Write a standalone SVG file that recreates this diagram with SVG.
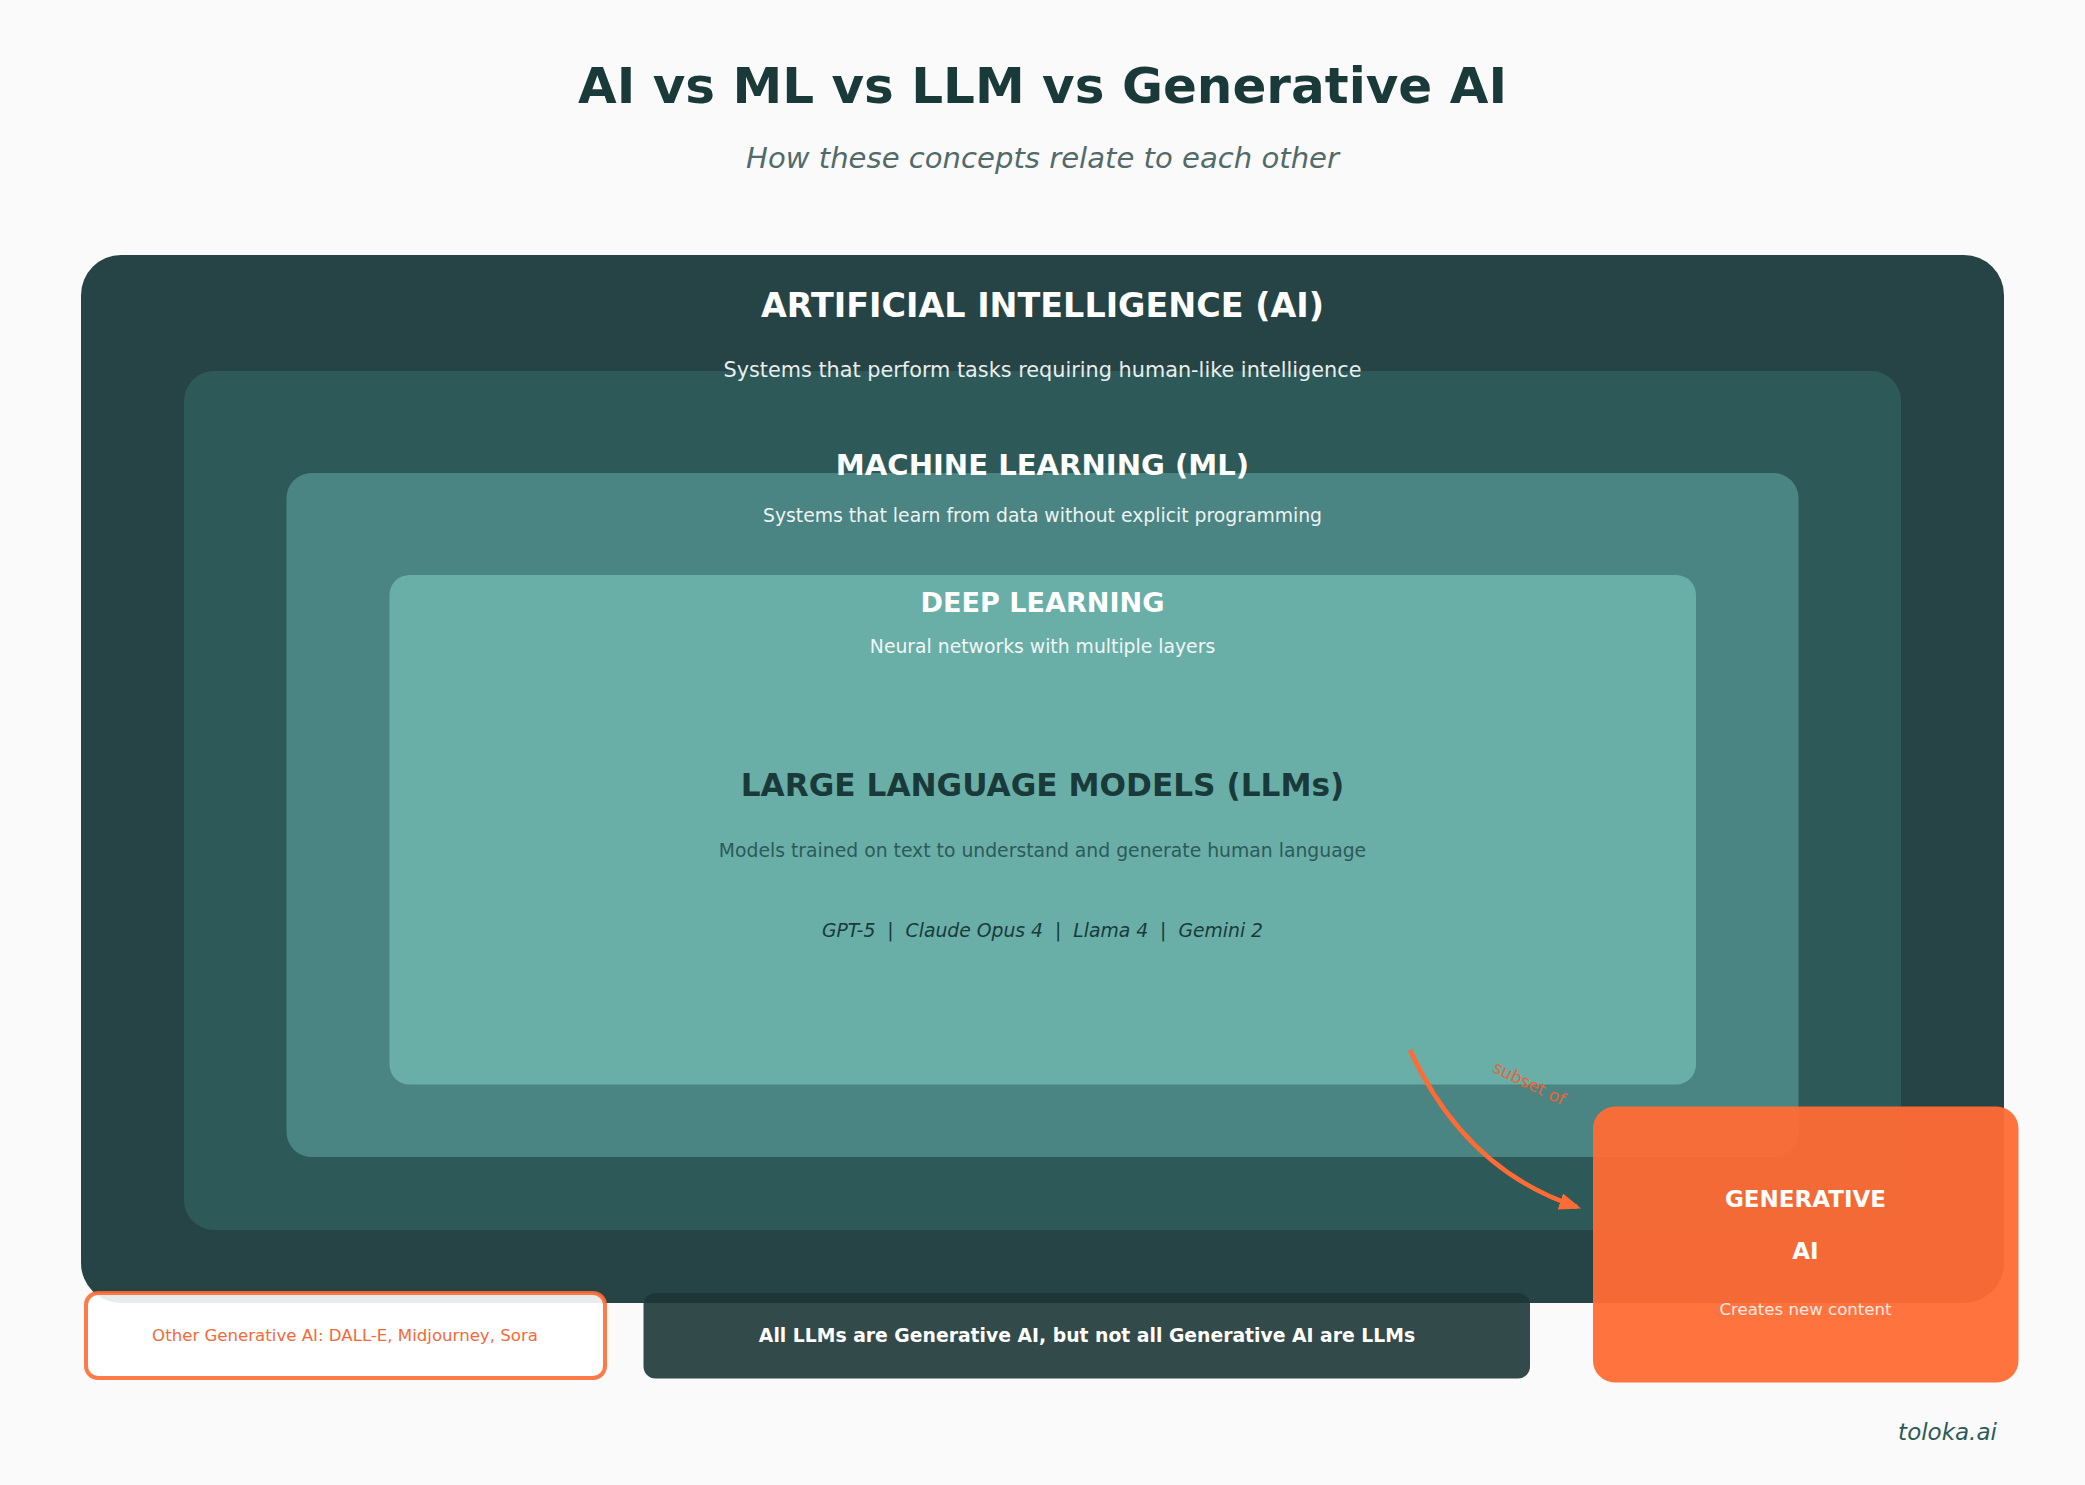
<svg xmlns="http://www.w3.org/2000/svg" width="2085" height="1485" viewBox="0 0 2085 1485">
<defs>
<style>
text{font-family:"DejaVu Sans",sans-serif;text-anchor:middle;white-space:pre}
.b{font-weight:700}
.w{fill:#fff}
.i{font-style:italic}
</style>
<marker id="ah" viewBox="0 0 10 10" refX="8" refY="5" markerWidth="22" markerHeight="17" markerUnits="userSpaceOnUse" orient="auto" preserveAspectRatio="none"><path d="M0 0L10 5L0 10Z" fill="#ff6b35"/></marker>
</defs>
<rect width="2085" height="1485" fill="#fafafa"/>
<g id="header">
<text x="1042.5" y="103" class="b" font-size="50" fill="#1a3a3a">AI vs ML vs LLM vs Generative AI</text>
<text x="1042.5" y="168" class="i" font-size="29.100" fill="#526a6a">How these concepts relate to each other</text>
</g>
<g id="node-ai">
<rect x="81" y="255" width="1923" height="1048" rx="40" fill="#264445"/>
<text x="1042.5" y="317" class="b w" font-size="33.400">ARTIFICIAL INTELLIGENCE (AI)</text>
</g>
<g id="node-ml">
<rect x="184" y="371" width="1717" height="859" rx="30" fill="#2d5a58"/>
<text x="1042.5" y="377" class="w" font-size="20.800" opacity=".9">Systems that perform tasks requiring human-like intelligence</text>
</g>
<g id="node-neural">
<rect x="286.500" y="473" width="1512" height="684" rx="25" fill="#4a8583"/>
<text x="1042.5" y="475" class="b w" font-size="29.100">MACHINE LEARNING (ML)</text>
<text x="1042.500" y="522" class="w" font-size="18.800" opacity=".9">Systems that learn from data without explicit programming</text>
</g>
<g id="node-dl">
<rect x="389.500" y="575" width="1306.500" height="509.500" rx="20" fill="#69afa8"/>
<text x="1042.5" y="612" class="b w" font-size="27.100">DEEP LEARNING</text>
<text x="1042.5" y="653" class="w" font-size="18.800" opacity=".9">Neural networks with multiple layers</text>
</g>
<g id="node-llm">
<text x="1042.5" y="796" class="b" font-size="31.200" fill="#1a3a3a">LARGE LANGUAGE MODELS (LLMs)</text>
<text x="1042.5" y="857" font-size="18.800" fill="#2d5a58">Models trained on text to understand and generate human language</text>
<text x="1042.5" y="937" class="i" font-size="18.800" fill="#1a3a3a">GPT-5  |  Claude Opus 4  |  Llama 4  |  Gemini 2</text>
</g>
<g id="connectors">
<path d="M1410 1050Q1465 1170 1577 1207" fill="none" stroke="#ff6b35" stroke-width="4.500" marker-end="url(#ah)"/>
<text x="1529" y="1089" font-size="17" fill="#e8653a" transform="rotate(26 1529 1084)">subset of</text>
</g>
<g id="node-genai">
<rect x="1593" y="1106.500" width="425.500" height="276" rx="22" fill="#ff6b35" fill-opacity=".95"/>
<text x="1805.500" y="1207" class="b w" font-size="23">GENERATIVE</text>
<text x="1805.500" y="1259" class="b w" font-size="23">AI</text>
<text x="1805.500" y="1315" class="w" font-size="16.600" opacity=".85">Creates new content</text>
</g>
<g id="node-other">
<rect x="86" y="1293" width="519" height="85" rx="12" fill="#fff" fill-opacity=".9" stroke="#ff6b35" stroke-opacity=".9" stroke-width="4"/>
<text x="345" y="1341" font-size="16.600" fill="#f4693a">Other Generative AI: DALL-E, Midjourney, Sora</text>
</g>
<g id="node-note">
<rect x="643.500" y="1293" width="886.500" height="85.500" rx="12" fill="#1d3636" fill-opacity=".9"/>
<text x="1087" y="1342" class="b w" font-size="18.800">All LLMs are Generative AI, but not all Generative AI are LLMs</text>
</g>
<g id="brand">
<text x="1947.500" y="1440" class="i" font-size="23" fill="#2d5a58">toloka.ai</text>
</g>
</svg>
